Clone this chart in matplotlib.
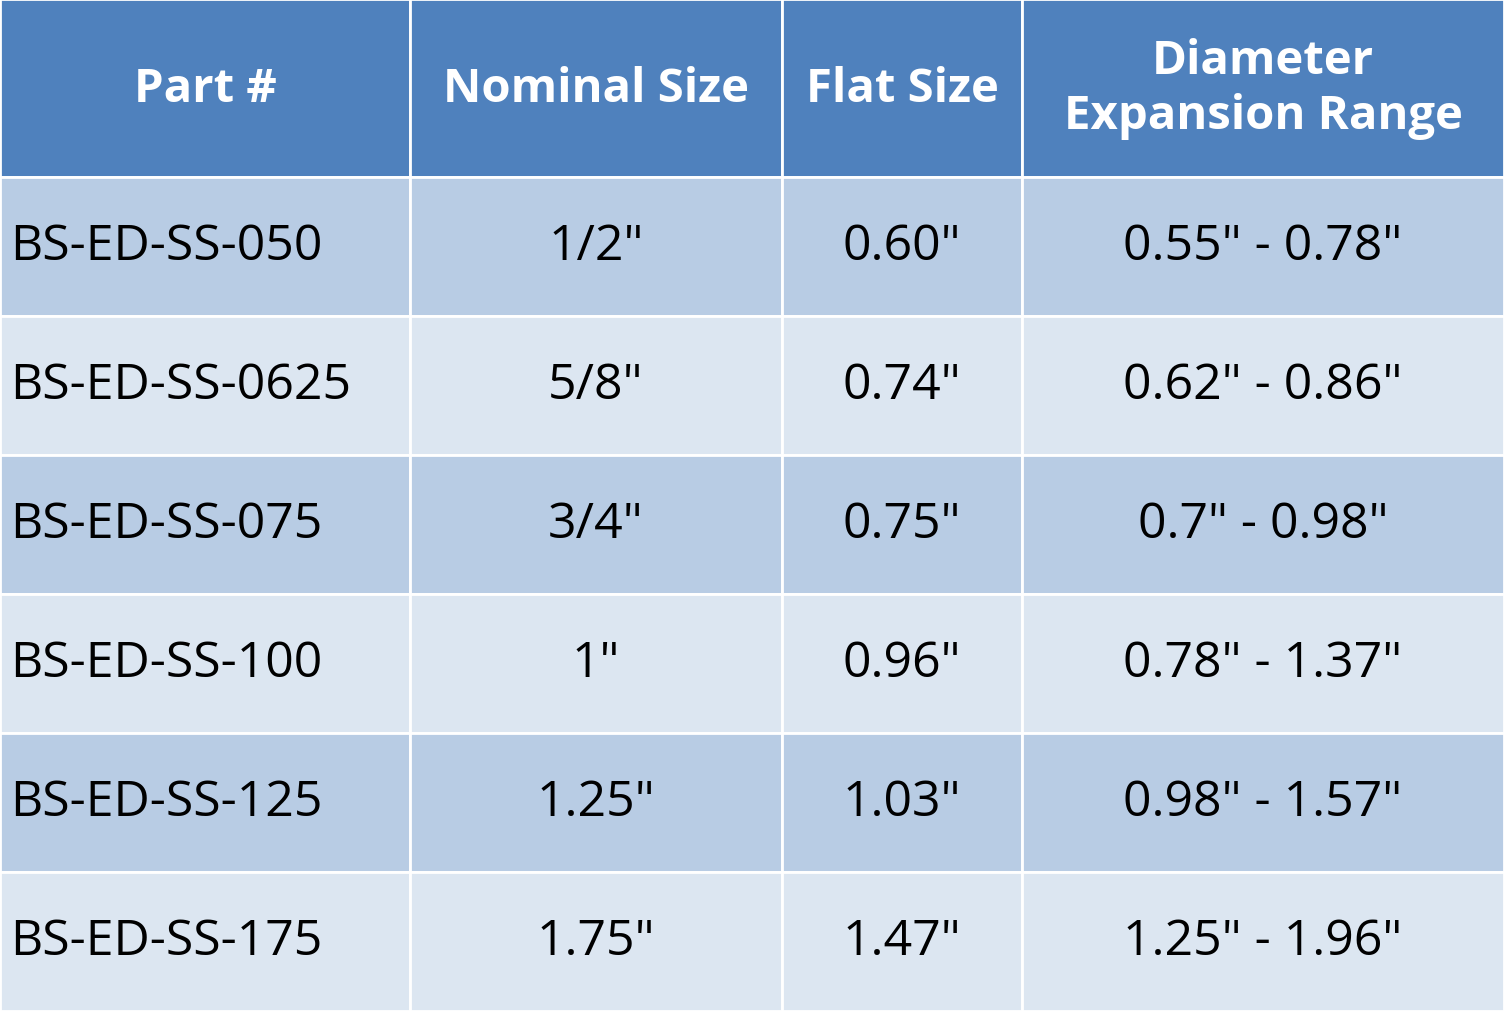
import matplotlib
matplotlib.use("Agg")
import matplotlib.pyplot as plt
from matplotlib.patches import Rectangle

headers = ["Part #", "Nominal Size", "Flat Size", "Diameter\nExpansion Range"]
part = ["BS-ED-SS-050", "BS-ED-SS-0625", "BS-ED-SS-075", "BS-ED-SS-100", "BS-ED-SS-125", "BS-ED-SS-175"]
nominal = ['1/2"', '5/8"', '3/4"', '1"', '1.25"', '1.75"']
flat = ['0.60"', '0.74"', '0.75"', '0.96"', '1.03"', '1.47"']
expansion = ['0.55" - 0.78"', '0.62" - 0.86"', '0.7" - 0.98"', '0.78" - 1.37"', '0.98" - 1.57"', '1.25" - 1.96"']

col_edges = [0, 410, 782, 1022, 1504]
header_h = 178
row_h = (1012 - header_h) / 6

fig = plt.figure(figsize=(15.04, 10.12), dpi=100)
ax = fig.add_axes([0, 0, 1, 1])
ax.set_xlim(0, 1504); ax.set_ylim(1012, 0); ax.axis("off")
font = "Open Sans"

for c in range(4):
    x0, x1 = col_edges[c], col_edges[c + 1]
    ax.add_patch(Rectangle((x0, 0), x1 - x0, header_h, fc="#4F81BD", ec="white", lw=2))
    ax.text((x0 + x1) / 2, header_h / 2, headers[c], ha="center", va="center", color="white",
            fontsize=34, fontweight="bold", family=font, linespacing=1.2)

cols = [part, nominal, flat, expansion]
for r in range(6):
    y0 = header_h + r * row_h
    fc = "#B8CCE4" if r % 2 == 0 else "#DCE6F1"
    for c in range(4):
        x0, x1 = col_edges[c], col_edges[c + 1]
        ax.add_patch(Rectangle((x0, y0), x1 - x0, row_h, fc=fc, ec="white", lw=2))
        if c == 0:
            ax.text(x0 + 10, y0 + row_h / 2, cols[c][r], ha="left", va="center", fontsize=36, family=font)
        else:
            ax.text((x0 + x1) / 2, y0 + row_h / 2, cols[c][r], ha="center", va="center", fontsize=36, family=font)

fig.savefig("out.png", dpi=100)
